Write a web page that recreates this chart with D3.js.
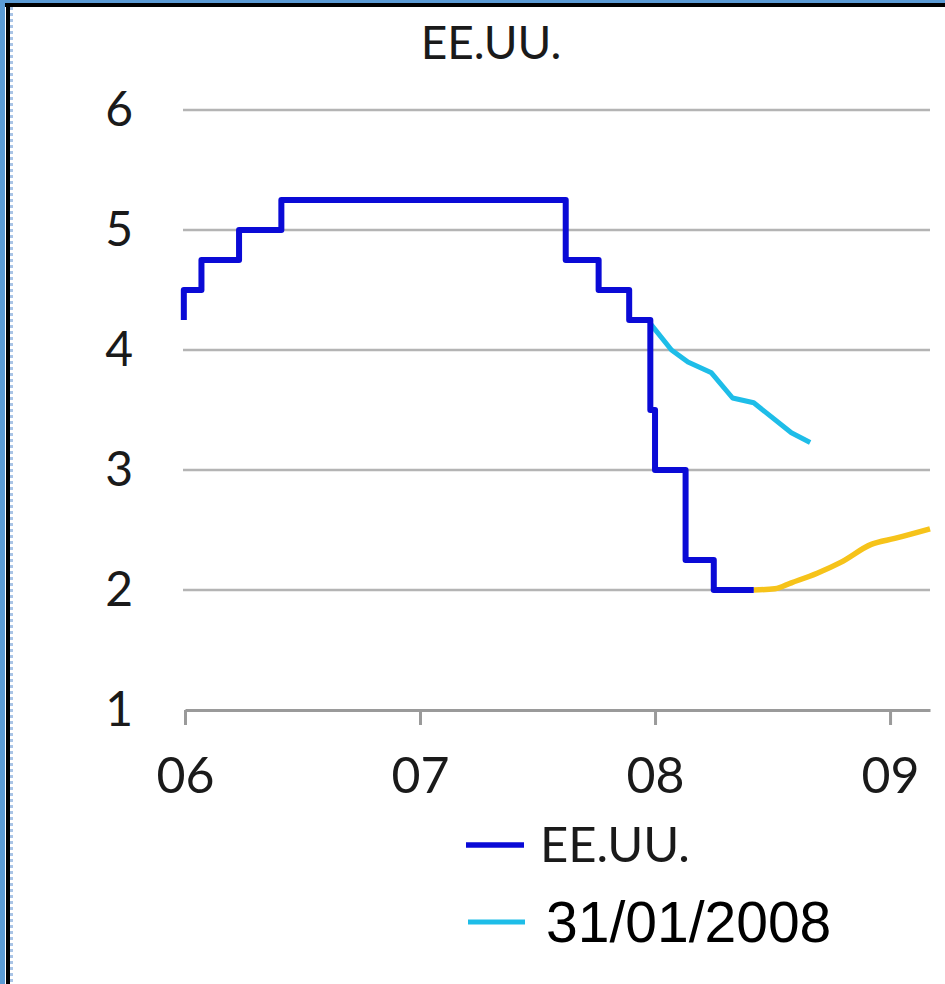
<!DOCTYPE html>
<html>
<head>
<meta charset="utf-8">
<script src="https://cdn.jsdelivr.net/npm/d3@7"></script>
<style>
  html, body { margin: 0; padding: 0; background: #fff; }
  svg { display: block; }
</style>
</head>
<body>
<div class="chart"></div>
<script>
// x axis: years, y axis: rate (%)
var years = [2006, 2007, 2008, 2009];
var yearLabels = ["06", "07", "08", "09"];
var rateTicks = [1, 2, 3, 4, 5, 6];

// EE.UU. official rate (step series)
var usTimes = [2005.995, 2005.995, 2006.07, 2006.23, 2006.41, 2007.62, 2007.76, 2007.89, 2007.98, 2008.0, 2008.13, 2008.25, 2008.42];
var usRates = [4.25, 4.5, 4.75, 5.0, 5.25, 4.75, 4.5, 4.25, 3.5, 3.0, 2.25, 2.0, 2.0];

// market expectations at 31/01/2008
var janTimes = [2007.98, 2008.07, 2008.14, 2008.24, 2008.33, 2008.42, 2008.58, 2008.66];
var janRates = [4.22, 4.0, 3.9, 3.81, 3.6, 3.56, 3.31, 3.23];

// latest expectations
var nowTimes = [2008.42, 2008.51, 2008.58, 2008.69, 2008.79, 2008.92, 2009.02, 2009.17];
var nowRates = [2.0, 2.01, 2.06, 2.14, 2.23, 2.38, 2.43, 2.51];

var legendNames = ["EE.UU.", "31/01/2008"];

var width = 945, height = 984;
var calibri = "Lato, 'Open Sans', sans-serif";

var svg = d3.select("div.chart")
  .append("svg")
  .attr("width", width)
  .attr("height", height);

// frame round the picture
svg.append("rect").attr("x", 0).attr("y", 0).attr("width", width).attr("height", 3).attr("fill", "#5b9bd5");
svg.append("rect").attr("x", 0).attr("y", 0).attr("width", 5).attr("height", height).attr("fill", "#5b9bd5");
svg.append("rect").attr("x", 5).attr("y", 3).attr("width", width - 5).attr("height", 4).attr("fill", "#000");
svg.append("rect").attr("x", 6).attr("y", 3).attr("width", 4).attr("height", height - 3).attr("fill", "#000");
svg.append("line")
  .attr("x1", 11.5).attr("x2", 11.5).attr("y1", 7).attr("y2", height)
  .attr("stroke", "#a9c4e6").attr("stroke-width", 3).attr("stroke-dasharray", "3,3");

var x = d3.scaleLinear().domain([2006, 2009.17]).range([185, 930]);
var y = d3.scaleLinear().domain([1, 6]).range([710, 110]);

// title
svg.append("text")
  .attr("x", 491).attr("y", 59)
  .attr("text-anchor", "middle")
  .style("font-family", calibri)
  .style("font-size", "46px")
  .style("fill", "#1a1a1a")
  .text("EE.UU.");

// gridlines
svg.append("g")
  .selectAll("line")
  .data(rateTicks.filter(function(d) { return d > 1; }))
  .enter().append("line")
  .attr("x1", x(2006) - 2).attr("x2", x.range()[1])
  .attr("y1", function(d) { return y(d); })
  .attr("y2", function(d) { return y(d); })
  .attr("stroke", "#b4b4b4")
  .attr("stroke-width", 2.5);

// y axis labels
var yAxis = svg.append("g")
  .attr("transform", "translate(" + (x(2006) - 2) + ",0)")
  .call(d3.axisLeft(y).tickValues(rateTicks).tickSize(0).tickPadding(50).tickFormat(d3.format("d")));
yAxis.select(".domain").remove();
yAxis.selectAll("text")
  .style("font-family", calibri)
  .style("font-size", "48px")
  .style("fill", "#1a1a1a");

// x axis
var xAxis = svg.append("g")
  .attr("transform", "translate(0," + y(1) + ")")
  .call(d3.axisBottom(x)
    .tickValues(years)
    .tickSize(15)
    .tickSizeOuter(0)
    .tickPadding(32)
    .tickFormat(function(d, i) { return yearLabels[i]; }));
xAxis.select(".domain").attr("stroke", "#9a9a9a").attr("stroke-width", 3);
xAxis.selectAll(".tick line").attr("stroke", "#9a9a9a").attr("stroke-width", 3);
xAxis.selectAll("text")
  .style("font-family", calibri)
  .style("font-size", "50px")
  .style("fill", "#1a1a1a");

// series
function series(times, rates, color, w, curve) {
  var line = d3.line()
    .x(function(d) { return x(d[0]); })
    .y(function(d) { return y(d[1]); })
    .curve(curve);
  svg.append("path")
    .datum(d3.zip(times, rates))
    .attr("d", line)
    .attr("fill", "none")
    .attr("stroke", color)
    .attr("stroke-width", w)
    .attr("stroke-linejoin", "round");
}

series(janTimes, janRates, "#1ebde8", 5, d3.curveLinear);
series(nowTimes, nowRates, "#f6c31a", 5.5, d3.curveMonotoneX);
series(usTimes, usRates, "#0a0ad6", 6, d3.curveStepAfter);

// legend
var legendColors = ["#0a0ad6", "#1ebde8"];
var legend = svg.append("g");
legend.append("line")
  .attr("x1", 466).attr("x2", 524).attr("y1", 845).attr("y2", 845)
  .attr("stroke", legendColors[0]).attr("stroke-width", 5.5);
legend.append("text")
  .attr("x", 540).attr("y", 862)
  .style("font-family", calibri)
  .style("font-size", "49px")
  .style("fill", "#1a1a1a")
  .text(legendNames[0]);
legend.append("line")
  .attr("x1", 468).attr("x2", 525).attr("y1", 922).attr("y2", 922)
  .attr("stroke", legendColors[1]).attr("stroke-width", 5);
legend.append("text")
  .attr("x", 546).attr("y", 942)
  .style("font-family", "'Liberation Sans', Arial, sans-serif")
  .style("font-size", "57px")
  .style("fill", "#000")
  .text(legendNames[1]);
</script>
</body>
</html>
